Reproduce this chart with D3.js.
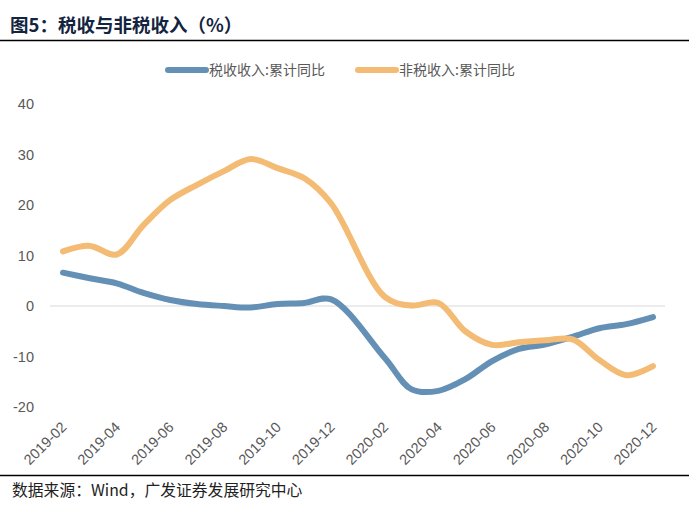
<!DOCTYPE html>
<html><head><meta charset="utf-8">
<script src="https://cdn.jsdelivr.net/npm/d3@7"></script>
<style>body{margin:0;background:#fff}</style>
</head><body><svg id="c" width="689" height="517"></svg>
<script>
const categories = ["2019-02","2019-03","2019-04","2019-05","2019-06","2019-07","2019-08","2019-09","2019-10","2019-11","2019-12",
  "2020-01","2020-02","2020-03","2020-04","2020-05","2020-06","2020-07","2020-08","2020-09","2020-10","2020-11","2020-12"];
const tickLabels = ["2019-02","2019-04","2019-06","2019-08","2019-10","2019-12","2020-02","2020-04","2020-06","2020-08","2020-10","2020-12"];
const taxValues = [6.6, 5.5, 4.5, 2.6, 1.2, 0.4, 0.0, -0.3, 0.4, 0.6, 1.3, null, -10.3, -16.5, -16.8, -14.5, -10.9, -8.5, -7.6, -6.1, -4.4, -3.6, -2.2];
const nonTaxValues = [10.8, 11.9, 10.2, 16.0, 21.0, 24.0, 26.7, 29.1, 27.3, 25.3, 20.3, null, 1.8, 0.1, 0.6, -5.0, -7.7, -7.2, -6.8, -6.6, -10.7, -13.7, -11.9];
const yTicks = [-20, -10, 0, 10, 20, 30, 40];
const seriesNames = ["税收收入:累计同比", "非税收入:累计同比"];
const seriesColors = ["#6590b6", "#f3bb73"];
const titleText = "图5：税收与非税收入（%）";
const sourceText = "数据来源：Wind，广发证券发展研究中心";

const svg = d3.select("#c");
const cjk = "'Noto Sans CJK SC','Noto Sans',sans-serif";
const latin = "'Liberation Sans',Arial,sans-serif";

const x = d3.scalePoint().domain(categories).range([63, 653]);
const y = d3.scaleLinear().domain([-20, 40]).range([407, 104]);

// title
svg.append("text").attr("x", 10).attr("y", 32)
  .attr("font-family", cjk).attr("font-weight", 700).attr("font-size", 18.5)
  .attr("fill", "#14243f").text(titleText);
svg.append("line").attr("x1", 0).attr("x2", 689).attr("y1", 40.5).attr("y2", 40.5)
  .attr("stroke", "#000").attr("stroke-width", 1.3);

// zero line
svg.append("line").attr("x1", 50).attr("x2", 665).attr("y1", y(0)).attr("y2", y(0))
  .attr("stroke", "#d9d9d9").attr("stroke-width", 1);

// y axis
const ya = svg.append("g").attr("transform", "translate(34,0)")
  .call(d3.axisLeft(y).tickValues(yTicks).tickFormat(d => String(d)).tickSize(0).tickPadding(0));
ya.select(".domain").remove();
ya.selectAll("text").attr("font-family", latin).attr("font-size", 14.5).attr("fill", "#595959");

// x axis
const xa = svg.append("g").attr("transform", "translate(0,428)")
  .call(d3.axisBottom(x).tickValues(tickLabels).tickSize(0).tickPadding(0));
xa.select(".domain").remove();
xa.selectAll("text").attr("y", null).attr("dy", null)
  .attr("text-anchor", "end").attr("transform", "translate(4,0) rotate(-45)")
  .attr("font-family", latin).attr("font-size", 14.5).attr("fill", "#595959");

// lines
const line = d3.line().x(d => x(d.c)).y(d => y(d.v)).curve(d3.curveCatmullRom.alpha(0.5));
[taxValues, nonTaxValues].forEach((vals, k) => {
  const pts = categories.map((c, i) => ({c, v: vals[i]})).filter(d => d.v !== null);
  svg.append("path").datum(pts).attr("d", line)
    .attr("fill", "none").attr("stroke", seriesColors[k]).attr("stroke-width", 6)
    .attr("stroke-linecap", "round").attr("stroke-linejoin", "round");
});

// legend
const legendX = [168, 358];
seriesNames.forEach((n, k) => {
  svg.append("line").attr("x1", legendX[k]).attr("x2", legendX[k] + 38).attr("y1", 70).attr("y2", 70)
    .attr("stroke", seriesColors[k]).attr("stroke-width", 6).attr("stroke-linecap", "round");
  svg.append("text").attr("x", legendX[k] + 41).attr("y", 70).attr("dy", "0.36em")
    .attr("font-family", cjk).attr("font-size", 14).attr("fill", "#595959").text(n);
});

// bottom
svg.append("line").attr("x1", 0).attr("x2", 689).attr("y1", 475.5).attr("y2", 475.5)
  .attr("stroke", "#000").attr("stroke-width", 1.3);
svg.append("text").attr("x", 12).attr("y", 496)
  .attr("font-family", cjk).attr("font-size", 15.8).attr("fill", "#222").text(sourceText);
</script>
</body></html>
